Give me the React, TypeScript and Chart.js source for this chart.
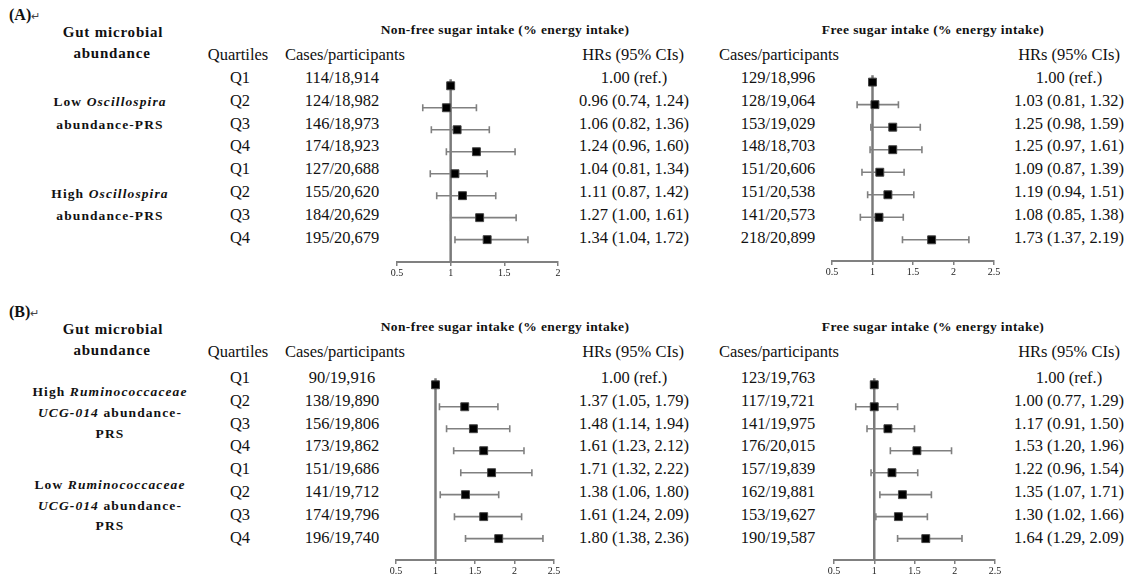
import React, { useEffect, useRef } from "react";
import { Chart, registerables } from "chart.js";
Chart.register(...registerables);

const SERIF = '"Liberation Serif", "Times New Roman", serif';

const quartiles = ["Q1", "Q2", "Q3", "Q4", "Q1", "Q2", "Q3", "Q4"];

// Panel A — Oscillospira, non-free sugar
const aNonFreeCases = ["114/18,914", "124/18,982", "146/18,973", "174/18,923", "127/20,688", "155/20,620", "184/20,629", "195/20,679"];
const aNonFreeHR = [1.0, 0.96, 1.06, 1.24, 1.04, 1.11, 1.27, 1.34];
const aNonFreeLo = [null, 0.74, 0.82, 0.96, 0.81, 0.87, 1.0, 1.04];
const aNonFreeHi = [null, 1.24, 1.36, 1.6, 1.34, 1.42, 1.61, 1.72];

// Panel A — Oscillospira, free sugar
const aFreeCases = ["129/18,996", "128/19,064", "153/19,029", "148/18,703", "151/20,606", "151/20,538", "141/20,573", "218/20,899"];
const aFreeHR = [1.0, 1.03, 1.25, 1.25, 1.09, 1.19, 1.08, 1.73];
const aFreeLo = [null, 0.81, 0.98, 0.97, 0.87, 0.94, 0.85, 1.37];
const aFreeHi = [null, 1.32, 1.59, 1.61, 1.39, 1.51, 1.38, 2.19];

// Panel B — Ruminococcaceae UCG-014, non-free sugar
const bNonFreeCases = ["90/19,916", "138/19,890", "156/19,806", "173/19,862", "151/19,686", "141/19,712", "174/19,796", "196/19,740"];
const bNonFreeHR = [1.0, 1.37, 1.48, 1.61, 1.71, 1.38, 1.61, 1.8];
const bNonFreeLo = [null, 1.05, 1.14, 1.23, 1.32, 1.06, 1.24, 1.38];
const bNonFreeHi = [null, 1.79, 1.94, 2.12, 2.22, 1.8, 2.09, 2.36];

// Panel B — Ruminococcaceae UCG-014, free sugar
const bFreeCases = ["123/19,763", "117/19,721", "141/19,975", "176/20,015", "157/19,839", "162/19,881", "153/19,627", "190/19,587"];
const bFreeHR = [1.0, 1.0, 1.17, 1.53, 1.22, 1.35, 1.3, 1.64];
const bFreeLo = [null, 0.77, 0.91, 1.2, 0.96, 1.07, 1.02, 1.29];
const bFreeHi = [null, 1.29, 1.5, 1.96, 1.54, 1.71, 1.66, 2.09];

const axisTicksA1 = [0.5, 1, 1.5, 2];
const axisTicks25 = [0.5, 1, 1.5, 2, 2.5];

const hrLabel = (hr: number, lo: number | null, hi: number | null) =>
  lo == null || hi == null ? `${hr.toFixed(2)} (ref.)` : `${hr.toFixed(2)} (${lo.toFixed(2)}, ${hi.toFixed(2)})`;

type ForestProps = {
  hr: number[];
  lo: (number | null)[];
  hi: (number | null)[];
  ticks: number[];
  pxMin: number;
  pxMax: number;
  row0: number;
  step: number;
  axisY: number;
};

function Forest({ hr, lo, hi, ticks, pxMin, pxMax, row0, step, axisY }: ForestProps) {
  const ref = useRef<HTMLCanvasElement>(null);
  const padL = 20;
  const padR = 20;
  const AXH = 22;
  const yTopVal = -0.6;
  const topY = row0 + yTopVal * step;
  const yBotVal = (axisY - row0) / step;
  const left = pxMin - padL;
  const width = pxMax - pxMin + padL + padR;
  const height = Math.round(axisY - topY + AXH);
  const xMin = ticks[0];
  const xMax = ticks[ticks.length - 1];

  useEffect(() => {
    if (!ref.current) return;
    const datasets: any[] = [];
    datasets.push({
      data: hr.map((v, i) => ({ x: v, y: i })),
      pointStyle: "rect",
      pointRadius: 5.6,
      pointHoverRadius: 5.6,
      backgroundColor: "#000",
      borderColor: "#444",
      borderWidth: 1,
      order: 0,
    });
    hr.forEach((_, i) => {
      if (lo[i] != null && hi[i] != null) {
        datasets.push({
          data: [
            { x: lo[i], y: i },
            { x: hi[i], y: i },
          ],
          showLine: true,
          borderColor: "#808080",
          borderWidth: 1.6,
          pointStyle: "line",
          pointRotation: 90,
          pointRadius: 3.5,
          pointHoverRadius: 3.5,
          pointBorderColor: "#808080",
          pointBorderWidth: 1.6,
          order: 1,
        });
      }
    });
    datasets.push({
      data: [
        { x: 1, y: -0.3 },
        { x: 1, y: yBotVal },
      ],
      showLine: true,
      borderColor: "#7a7a7a",
      borderWidth: 2.5,
      pointRadius: 0,
      order: 2,
    });

    const chart = new Chart(ref.current, {
      type: "scatter",
      data: { datasets },
      options: {
        animation: false,
        responsive: false,
        devicePixelRatio: 1,
        layout: { padding: { left: padL, right: padR, top: 0, bottom: 0 } },
        plugins: { legend: { display: false }, tooltip: { enabled: false } },
        events: [],
        scales: {
          x: {
            type: "linear",
            min: xMin,
            max: xMax,
            afterBuildTicks: (scale: any) => {
              scale.ticks = ticks.map((v) => ({ value: v }));
            },
            afterFit: (scale: any) => {
              scale.height = AXH;
            },
            ticks: {
              font: { family: SERIF, size: 10 },
              color: "#222",
              padding: 1,
              maxRotation: 0,
              callback: (v: any) => String(v),
            },
            grid: {
              display: true,
              drawOnChartArea: false,
              drawTicks: true,
              tickLength: 4,
              color: "#808080",
              lineWidth: 1.5,
            },
            border: { display: true, color: "#808080", width: 2 },
          },
          y: {
            type: "linear",
            display: false,
            min: yTopVal,
            max: yBotVal,
            reverse: true,
          },
        },
      } as any,
    });
    return () => chart.destroy();
  }, []);

  return (
    <canvas
      ref={ref}
      width={width}
      height={height}
      style={{ position: "absolute", left, top: Math.round(topY), width, height }}
    />
  );
}

function T({ x, y, children, style }: { x: number; y: number; children: any; style?: any }) {
  return (
    <div
      style={{
        position: "absolute",
        left: x,
        top: y,
        transform: "translate(-50%, -50%)",
        whiteSpace: "nowrap",
        lineHeight: 1,
        fontFamily: SERIF,
        fontSize: 16.5,
        color: "#111",
        ...style,
      }}
    >
      {children}
    </div>
  );
}

const headStyle = { fontWeight: "bold", fontSize: 13.5, letterSpacing: 0.4 };
const groupStyle = { fontWeight: "bold", fontSize: 13.5, letterSpacing: 1.1 };
const gutStyle = { fontWeight: "bold", fontSize: 15, letterSpacing: 0.8 };

type PanelProps = {
  tag: string;
  y0: number;
  rowY0: number;
  groups: { lines: any[]; y: number[] }[];
  leftCases: string[];
  leftHR: number[];
  leftLo: (number | null)[];
  leftHi: (number | null)[];
  rightCases: string[];
  rightHR: number[];
  rightLo: (number | null)[];
  rightHi: (number | null)[];
};

function PanelText(p: PanelProps) {
  const rs = 22.8;
  const rows = quartiles.map((_, i) => p.rowY0 + i * rs);
  return (
    <>
      <div
        style={{
          position: "absolute",
          left: 9,
          top: p.y0 - 9,
          fontFamily: SERIF,
          fontWeight: "bold",
          fontSize: 16,
          lineHeight: 1,
          whiteSpace: "nowrap",
          color: "#111",
        }}
      >
        {p.tag}
        <span style={{ fontWeight: "normal", fontSize: 11, color: "#444" }}>↵</span>
      </div>
      <T x={113} y={p.y0 + 16} style={gutStyle}>Gut microbial</T>
      <T x={112} y={p.y0 + 37} style={gutStyle}>abundance</T>
      <T x={505} y={p.y0 + 14} style={headStyle}>Non-free sugar intake (% energy intake)</T>
      <T x={933} y={p.y0 + 14} style={headStyle}>Free sugar intake (% energy intake)</T>
      <T x={238} y={p.y0 + 39}>Quartiles</T>
      <T x={345} y={p.y0 + 39}>Cases/participants</T>
      <T x={633} y={p.y0 + 39}>HRs (95% CIs)</T>
      <T x={779} y={p.y0 + 39}>Cases/participants</T>
      <T x={1069} y={p.y0 + 39}>HRs (95% CIs)</T>
      {p.groups.map((g, gi) =>
        g.lines.map((ln, li) => (
          <T key={`g${gi}-${li}`} x={110} y={g.y[li]} style={groupStyle}>
            {ln}
          </T>
        ))
      )}
      {quartiles.map((q, i) => (
        <T key={`q${i}`} x={240} y={rows[i]}>{q}</T>
      ))}
      {p.leftCases.map((c, i) => (
        <T key={`lc${i}`} x={342} y={rows[i]}>{c}</T>
      ))}
      {p.leftHR.map((h, i) => (
        <T key={`lh${i}`} x={634} y={rows[i]}>{hrLabel(h, p.leftLo[i], p.leftHi[i])}</T>
      ))}
      {p.rightCases.map((c, i) => (
        <T key={`rc${i}`} x={778} y={rows[i]}>{c}</T>
      ))}
      {p.rightHR.map((h, i) => (
        <T key={`rh${i}`} x={1069} y={rows[i]}>{hrLabel(h, p.rightLo[i], p.rightHi[i])}</T>
      ))}
    </>
  );
}

export default function App() {
  return (
    <div
      style={{
        position: "fixed",
        left: 0,
        top: 0,
        width: 1129,
        height: 579,
        background: "#fff",
        overflow: "hidden",
      }}
    >
      <PanelText
        tag="(A)"
        y0={16}
        rowY0={78}
        groups={[
          { lines: [<span>Low <i>Oscillospira</i></span>, "abundance-PRS"], y: [102, 125] },
          { lines: [<span>High <i>Oscillospira</i></span>, "abundance-PRS"], y: [194, 216] },
        ]}
        leftCases={aNonFreeCases}
        leftHR={aNonFreeHR}
        leftLo={aNonFreeLo}
        leftHi={aNonFreeHi}
        rightCases={aFreeCases}
        rightHR={aFreeHR}
        rightLo={aFreeLo}
        rightHi={aFreeHi}
      />
      <PanelText
        tag="(B)"
        y0={313}
        rowY0={378}
        groups={[
          { lines: [<span>High <i>Ruminococcaceae</i></span>, <span><i>UCG-014</i> abundance-</span>, "PRS"], y: [392, 413, 434] },
          { lines: [<span>Low <i>Ruminococcaceae</i></span>, <span><i>UCG-014</i> abundance-</span>, "PRS"], y: [485, 506, 526] },
        ]}
        leftCases={bNonFreeCases}
        leftHR={bNonFreeHR}
        leftLo={bNonFreeLo}
        leftHi={bNonFreeHi}
        rightCases={bFreeCases}
        rightHR={bFreeHR}
        rightLo={bFreeLo}
        rightHi={bFreeHi}
      />
      <Forest hr={aNonFreeHR} lo={aNonFreeLo} hi={aNonFreeHi} ticks={axisTicksA1} pxMin={397} pxMax={558} row0={80} step={22.7} axisY={262} />
      <Forest hr={aFreeHR} lo={aFreeLo} hi={aFreeHi} ticks={axisTicks25} pxMin={832} pxMax={994} row0={76} step={23.3} axisY={261} />
      <Forest hr={bNonFreeHR} lo={bNonFreeLo} hi={bNonFreeHi} ticks={axisTicks25} pxMin={396} pxMax={554} row0={379} step={22.7} axisY={560} />
      <Forest hr={bFreeHR} lo={bFreeLo} hi={bFreeHi} ticks={axisTicks25} pxMin={834} pxMax={995} row0={379} step={22.7} axisY={560} />
    </div>
  );
}
